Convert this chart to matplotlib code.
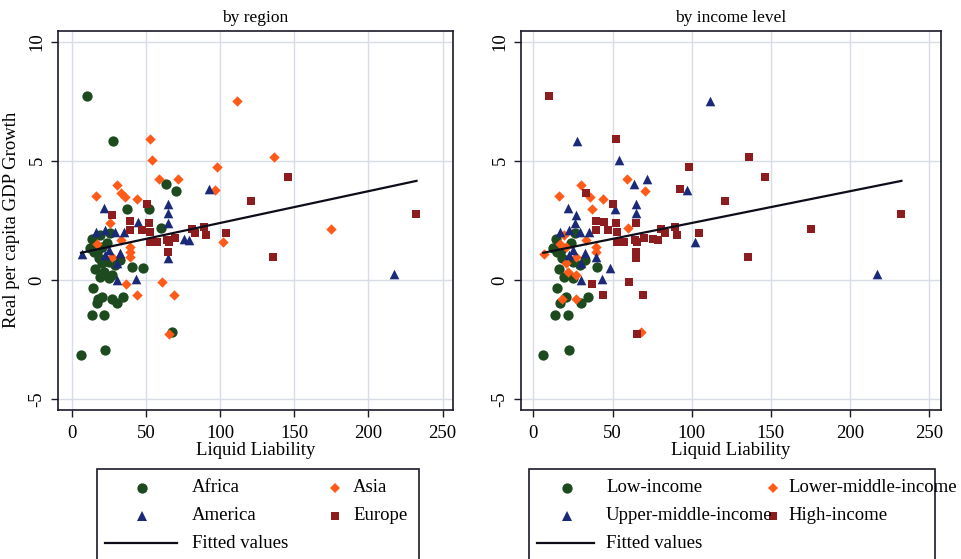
import matplotlib.pyplot as plt
from matplotlib.lines import Line2D
from matplotlib.patches import Rectangle

plt.rcParams['font.family'] = ['Liberation Serif', 'DejaVu Serif']
plt.rcParams['font.size'] = 13.5

# liquid liabilities (% of GDP) and real per capita GDP growth (%), one entry per country
liquid = [10.1, 111.6, 27.8, 52.5, 54.0, 98.2, 59.2, 71.5, 63.7, 70.6,
          92.3, 96.8, 30.4, 33.2, 36.0, 16.4, 44.0, 22.0, 37.0, 50.6,
          51.8, 65.0, 65.0, 65.0, 121.0, 27.1, 26.0, 39.5, 44.8, 52.3,
          60.0, 39.5, 47.4, 53.0, 22.6, 29.4, 35.0, 16.6, 19.3, 26.0,
          33.4, 53.0, 39.5, 39.5, 39.5, 6.9, 17.0, 12.5, 14.8, 24.9,
          32.7, 22.6, 27.2, 18.2, 20.4, 24.9, 29.4, 32.7, 15.9, 21.6,
          27.2, 19.3, 24.9, 40.5, 48.4, 30.4, 30.4, 43.6, 36.9, 44.1,
          14.7, 16.8, 17.9, 20.4, 27.0, 30.4, 34.8, 13.9, 21.8, 6.3,
          22.6, 67.8, 65.6, 60.6, 69.3, 80.9, 89.4, 83.1, 90.8, 104.3,
          64.0, 65.5, 69.6, 75.4, 78.8, 64.8, 64.8, 57.3, 102.0, 136.3,
          146.0, 175.0, 135.8, 232.4, 217.0, 14.0, 17.5, 20.5, 24.0]
growth = [7.70, 7.52, 5.83, 5.91, 5.04, 4.73, 4.24, 4.22, 4.03, 3.72,
          3.83, 3.76, 3.99, 3.64, 3.48, 3.52, 3.39, 3.00, 2.96, 3.20,
          2.97, 3.17, 2.79, 2.40, 3.30, 2.71, 2.40, 2.47, 2.44, 2.41,
          2.18, 2.08, 2.08, 2.03, 2.08, 2.03, 2.03, 2.03, 1.89, 1.96,
          1.68, 1.61, 1.40, 1.19, 0.98, 1.09, 1.50, 1.33, 1.19, 1.26,
          1.15, 1.05, 0.98, 0.91, 0.70, 0.77, 0.63, 0.84, 0.45, 0.35,
          0.21, 0.14, 0.07, 0.55, 0.49, 0.70, 0.00, 0.02, -0.15, -0.62,
          -0.33, -0.98, -0.78, -0.70, -0.78, -0.98, -0.72, -1.48, -1.48, -3.15,
          -2.94, -2.17, -2.27, -0.08, -0.65, 2.13, 2.24, 1.95, 1.88, 1.95,
          1.67, 1.58, 1.74, 1.70, 1.69, 1.18, 0.90, 1.60, 1.61, 5.17,
          4.30, 2.14, 0.97, 2.75, 0.25, 1.70, 1.25, 1.40, 1.55]
region = ['AF', 'AS', 'AF', 'AS', 'AS', 'AS', 'AS', 'AS', 'AF', 'AF',
          'AM', 'AS', 'AS', 'AS', 'AS', 'AS', 'AS', 'AM', 'AF', 'EU',
          'AF', 'AM', 'AM', 'AM', 'EU', 'EU', 'AS', 'EU', 'AM', 'EU',
          'AF', 'EU', 'EU', 'EU', 'AM', 'AM', 'AM', 'AM', 'AF', 'AF',
          'AS', 'EU', 'AS', 'AS', 'AS', 'AM', 'AS', 'AF', 'AF', 'AM',
          'AM', 'AM', 'AS', 'AF', 'AF', 'AF', 'AF', 'AF', 'AF', 'AF',
          'AF', 'AF', 'AF', 'AF', 'AF', 'AM', 'AM', 'AM', 'AS', 'AS',
          'AF', 'AF', 'AF', 'AF', 'AF', 'AF', 'AF', 'AF', 'AF', 'AF',
          'AF', 'AF', 'AS', 'AS', 'AS', 'EU', 'EU', 'EU', 'EU', 'EU',
          'EU', 'EU', 'EU', 'AM', 'AM', 'EU', 'AM', 'EU', 'AS', 'AS',
          'EU', 'AS', 'EU', 'EU', 'AM', 'AF', 'AF', 'AF', 'AF']
income = ['H', 'UM', 'UM', 'H', 'UM', 'H', 'LM', 'UM', 'UM', 'LM',
          'H', 'UM', 'LM', 'H', 'LM', 'LM', 'LM', 'UM', 'LM', 'H',
          'UM', 'UM', 'UM', 'H', 'H', 'UM', 'UM', 'H', 'H', 'H',
          'LM', 'H', 'H', 'H', 'UM', 'UM', 'UM', 'UM', 'LM', 'L',
          'LM', 'H', 'LM', 'LM', 'UM', 'LM', 'LM', 'L', 'L', 'UM',
          'UM', 'UM', 'LM', 'L', 'LM', 'L', 'L', 'L', 'L', 'LM',
          'LM', 'L', 'L', 'L', 'UM', 'UM', 'UM', 'UM', 'H', 'H',
          'L', 'L', 'LM', 'L', 'LM', 'L', 'L', 'L', 'L', 'L',
          'L', 'LM', 'H', 'H', 'H', 'H', 'H', 'H', 'H', 'H',
          'H', 'H', 'H', 'H', 'H', 'H', 'H', 'H', 'UM', 'H',
          'H', 'H', 'H', 'H', 'UM', 'L', 'L', 'LM', 'L']

# OLS line of growth on liquid liabilities
fit_intercept = 1.055
fit_slope = 0.01335

region_groups = [('AF', 'Africa'), ('AS', 'Asia'), ('AM', 'America'), ('EU', 'Europe')]
income_groups = [('L', 'Low-income'), ('LM', 'Lower-middle-income'),
                 ('UM', 'Upper-middle-income'), ('H', 'High-income')]

# marker, size, colour for the 4 groups (same in both panels)
styles = [('o', 55, '#1d4a1f'), ('D', 28, '#ff5a17'), ('^', 48, '#1b2a78'), ('s', 36, '#8c1c1e')]

W, H = 961, 559
fig = plt.figure(figsize=(W / 100, H / 100), dpi=100)


def px(x, y):
    return x / W, 1 - y / H


ax1 = fig.add_axes([58 / W, 1 - 410 / H, 395 / W, 379.5 / H])
ax2 = fig.add_axes([521 / W, 1 - 410 / H, 420 / W, 379.5 / H])


def panel(ax, codes, groups, title, xlim):
    for (code, name), (m, s, c) in zip(groups, styles):
        xs = [x for x, g in zip(liquid, codes) if g == code]
        ys = [y for y, g in zip(growth, codes) if g == code]
        ax.scatter(xs, ys, marker=m, s=s, color=c, linewidths=0, zorder=3)
    x0, x1 = min(liquid), max(liquid)
    ax.plot([x0, x1], [fit_intercept + fit_slope * x0, fit_intercept + fit_slope * x1],
            color='#0d0d1a', lw=1.6, zorder=4)
    ax.set_xlim(*xlim)
    ax.set_ylim(-5.46, 10.47)
    ax.set_xticks([0, 50, 100, 150, 200, 250])
    ax.set_yticks([-5, 0, 5, 10])
    ax.set_yticklabels(['-5', '0', '5', '10'], rotation=90, va='center')
    ax.grid(True, color='#d8dce6', lw=1.0)
    ax.set_axisbelow(True)
    ax.tick_params(direction='out', length=5, width=1.0, color='#1a1a2a', pad=4)
    ax.tick_params(axis='x', pad=6)
    for sp in ax.spines.values():
        sp.set_color('#1a1a2a')
        sp.set_linewidth(1.2)
    ax.set_title(title, fontsize=12.5, pad=6)
    ax.set_xlabel('Liquid Liability', labelpad=0)


panel(ax1, region, region_groups, 'by region', (-9.2, 257))
panel(ax2, income, income_groups, 'by income level', (-7.8, 257.4))
ax1.set_ylabel('Real per capita GDP Growth', labelpad=6)


def legend_box(left, right, names, mx, tx, line_x):
    x, y = px(left, 560)
    w = (right - left) / W
    h = (560 - 469) / H
    fig.add_artist(Rectangle((x, y), w, h, transform=fig.transFigure, fill=False,
                             ec='#1a1a2a', lw=1.2, clip_on=False))
    rows = [488, 488, 516, 516]
    cols = [0, 1, 0, 1]
    for name, (m, s, c), r, col in zip(names, styles, rows, cols):
        fx, fy = px(mx[col], r)
        fig.add_artist(Line2D([fx], [fy], marker=m, markersize=s ** 0.5,
                              color=c, mew=0, transform=fig.transFigure))
        tx_, ty_ = px(tx[col], r)
        fig.text(tx_, ty_, name, va='center', ha='left')
    a, fy = px(line_x[0], 543)
    b, _ = px(line_x[1], 543)
    fig.add_artist(Line2D([a, b], [fy, fy], color='#0d0d1a', lw=1.6,
                          transform=fig.transFigure))
    tx_, ty_ = px(tx[0], 543)
    fig.text(tx_, ty_, 'Fitted values', va='center', ha='left')


legend_box(97, 419, [n for _, n in region_groups], (142, 335), (192, 353), (105, 177))
legend_box(529, 935, [n for _, n in income_groups], (567, 773), (606, 788), (537, 594))

fig.savefig('out.png', dpi=100)
